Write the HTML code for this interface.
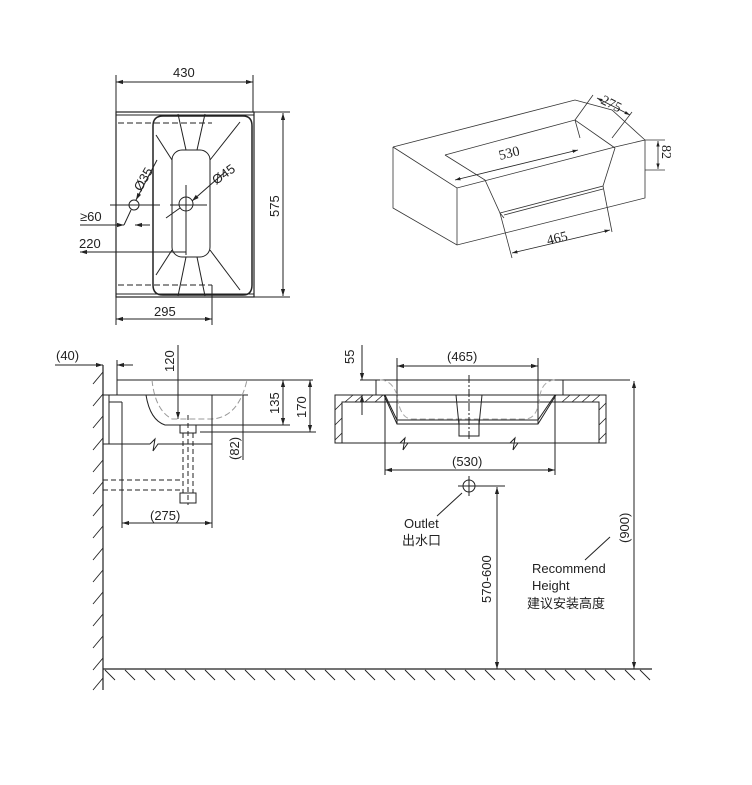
<!DOCTYPE html>
<html><head><meta charset="utf-8"><style>
html,body{margin:0;padding:0;background:#fff;}
svg{display:block;}
text{font-family:"Liberation Sans","Noto Sans CJK SC",sans-serif;font-size:13px;fill:#222;}
</style></head><body>
<svg width="752" height="785" viewBox="0 0 752 785" xmlns="http://www.w3.org/2000/svg">
<defs>
<marker id="a" viewBox="0 0 10 10" refX="10" refY="5" markerWidth="7" markerHeight="7" orient="auto-start-reverse"><path d="M0,2 L10,5 L0,8 z" fill="#222"/></marker>
</defs>
<g stroke="#222" stroke-width="1" fill="none">
<!-- TOP VIEW -->
<line x1="116" y1="75" x2="116" y2="325"/>
<line x1="253" y1="75" x2="253" y2="112"/>
<line x1="116" y1="82" x2="253" y2="82" marker-start="url(#a)" marker-end="url(#a)"/>
<rect x="116" y="112" width="138" height="185" stroke-width="1.2"/>
<line x1="116" y1="115" x2="254" y2="115"/>
<line x1="116" y1="294" x2="254" y2="294"/>
<path d="M163,116 H243 Q252,116 252,126 V285 Q252,295 243,295 H163 Q153,295 153,285 V126 Q153,116 163,116 Z" stroke-width="1.5"/>
<line x1="118" y1="123" x2="212" y2="123" stroke-dasharray="6,3"/>
<line x1="118" y1="285" x2="212" y2="285" stroke-dasharray="6,3"/>
<rect x="172" y="150" width="38" height="107" rx="10"/>
<line x1="178" y1="114" x2="186" y2="150"/><line x1="205" y1="114" x2="197" y2="150"/>
<line x1="178" y1="296" x2="186" y2="257"/><line x1="205" y1="296" x2="197" y2="257"/>
<line x1="240" y1="122" x2="210" y2="160"/><line x1="240" y1="290" x2="210" y2="250"/>
<line x1="156" y1="135" x2="172" y2="160"/><line x1="156" y1="275" x2="172" y2="250"/>
<line x1="254" y1="112" x2="290" y2="112"/><line x1="254" y1="297" x2="290" y2="297"/>
<line x1="283" y1="113" x2="283" y2="296" marker-start="url(#a)" marker-end="url(#a)"/>
<line x1="212" y1="285" x2="212" y2="325"/>
<line x1="116" y1="319" x2="212" y2="319" marker-start="url(#a)" marker-end="url(#a)"/>
<circle cx="134" cy="205" r="5"/><circle cx="186" cy="204" r="7"/>
<line x1="110" y1="205" x2="160" y2="205"/><line x1="170" y1="205" x2="207" y2="205"/>
<line x1="186" y1="185" x2="186" y2="255"/>
<line x1="157" y1="160" x2="136" y2="200" marker-end="url(#a)"/>
<line x1="225" y1="172" x2="192" y2="201" marker-end="url(#a)"/>
<line x1="166" y1="218" x2="180" y2="208"/>
<line x1="80" y1="225" x2="124" y2="225" marker-end="url(#a)"/><line x1="150" y1="225" x2="135" y2="225" marker-end="url(#a)"/>
<line x1="124" y1="225" x2="131" y2="210"/>
<line x1="80" y1="252" x2="186" y2="252" marker-start="url(#a)"/>
<line x1="153" y1="205" x2="153" y2="228"/>
</g>
<text x="173" y="77">430</text>
<text x="154" y="316">295</text>
<text x="279" y="217" transform="rotate(-90 279 217)" text-anchor="start" dx="0">575</text>
<text x="141" y="192" transform="rotate(-60 141 192)">Ø35</text>
<text x="216" y="185" transform="rotate(-35 216 185)">Ø45</text>
<text x="80" y="221">≥60</text>
<text x="79" y="248">220</text>

<!-- ISOMETRIC -->
<g stroke="#333" stroke-width="0.8" fill="none">
<polyline points="393,147 575,100 612,110 645,140 645,198 457,245 393,208 393,147"/>
<polyline points="393,147 457,188 615,147 645,140"/>
<line x1="457" y1="188" x2="457" y2="245"/>
<polyline points="445,155 575,120 615,148"/>
<polyline points="445,155 485,180 500,213 603,186 615,148"/>
<line x1="575" y1="120" x2="580" y2="138"/>
<line x1="500" y1="213" x2="504" y2="218"/><line x1="504" y1="215" x2="603" y2="189"/>
<line x1="593" y1="95" x2="575" y2="120"/><line x1="632" y1="112" x2="612" y2="138"/>
<line x1="597" y1="98" x2="630" y2="115" stroke="#222" marker-start="url(#a)" marker-end="url(#a)"/>
<line x1="455" y1="180" x2="578" y2="150" stroke="#222" marker-start="url(#a)" marker-end="url(#a)"/>
<line x1="500" y1="213" x2="512" y2="258"/><line x1="603" y1="186" x2="612" y2="232"/>
<line x1="512" y1="253" x2="610" y2="230" stroke="#222" marker-start="url(#a)" marker-end="url(#a)"/>
<line x1="645" y1="140" x2="665" y2="140"/><line x1="645" y1="170" x2="665" y2="170"/>
<line x1="658" y1="141" x2="658" y2="169" stroke="#222" marker-start="url(#a)" marker-end="url(#a)"/>
</g>
<text x="500" y="160" transform="rotate(-14 500 160)" style="font-family:'Liberation Serif',serif;font-size:14px">530</text>
<text x="548" y="245" transform="rotate(-14 548 245)" style="font-family:'Liberation Serif',serif;font-size:14px">465</text>
<text x="600" y="103" transform="rotate(27 600 103)" style="font-family:'Liberation Serif',serif;font-size:14px">275</text>
<text x="662" y="145" transform="rotate(90 662 145)" style="font-family:'Liberation Serif',serif;font-size:14px">82</text>

<!-- WALL & FLOOR -->
<g stroke="#222" stroke-width="1.2" fill="none">
<line x1="103" y1="365" x2="103" y2="690"/>
<line x1="103" y1="669" x2="652" y2="669"/>
</g>
<g stroke="#222" stroke-width="0.9">
<path d="M103,372 l-10,12 M103,394 l-10,12 M103,416 l-10,12 M103,438 l-10,12 M103,460 l-10,12 M103,482 l-10,12 M103,504 l-10,12 M103,526 l-10,12 M103,548 l-10,12 M103,570 l-10,12 M103,592 l-10,12 M103,614 l-10,12 M103,636 l-10,12 M103,658 l-10,12 M103,678 l-10,12"/>
<path d="M105,670 l10,10 M125,670 l10,10 M145,670 l10,10 M165,670 l10,10 M185,670 l10,10 M205,670 l10,10 M225,670 l10,10 M245,670 l10,10 M265,670 l10,10 M285,670 l10,10 M305,670 l10,10 M325,670 l10,10 M345,670 l10,10 M365,670 l10,10 M385,670 l10,10 M405,670 l10,10 M425,670 l10,10 M445,670 l10,10 M465,670 l10,10 M485,670 l10,10 M505,670 l10,10 M525,670 l10,10 M545,670 l10,10 M565,670 l10,10 M585,670 l10,10 M605,670 l10,10 M625,670 l10,10 M640,670 l10,10"/>
</g>

<!-- SIDE VIEW LEFT -->
<g stroke="#222" stroke-width="1" fill="none">
<line x1="55" y1="365" x2="103" y2="365" marker-end="url(#a)"/><line x1="133" y1="365" x2="117" y2="365" marker-end="url(#a)"/>
<line x1="117" y1="360" x2="117" y2="395"/>
<line x1="117" y1="380" x2="313" y2="380"/>
<line x1="103" y1="395" x2="248" y2="395"/>
<path d="M146,395 Q150,420 165,425 H250"/>
<path d="M152,380 Q155,410 172,419 H210 Q238,419 247,380" stroke="#999" stroke-dasharray="6,3"/>
<line x1="178" y1="345" x2="178" y2="419" marker-end="url(#a)"/>
<line x1="243" y1="395" x2="243" y2="460"/>
<line x1="283" y1="380" x2="283" y2="425" marker-start="url(#a)" marker-end="url(#a)"/>
<line x1="250" y1="425" x2="290" y2="425"/>
<line x1="310" y1="380" x2="310" y2="432" marker-start="url(#a)" marker-end="url(#a)"/>
<line x1="200" y1="432" x2="316" y2="432"/>
<line x1="109" y1="395" x2="109" y2="444"/><line x1="109" y1="402" x2="122" y2="402"/><line x1="122" y1="402" x2="122" y2="444"/>
<line x1="212" y1="395" x2="212" y2="528"/>
<line x1="103" y1="444" x2="150" y2="444"/><path d="M150,444 l5,-5 l-2,12 l5,-7 H212"/>
<line x1="122" y1="444" x2="122" y2="528"/>
<line x1="122" y1="523" x2="212" y2="523" marker-start="url(#a)" marker-end="url(#a)"/>
<rect x="180" y="425" width="16" height="8"/>
<rect x="180" y="493" width="16" height="10"/>
<g stroke-dasharray="5,3"><line x1="183" y1="433" x2="183" y2="493"/><line x1="193" y1="433" x2="193" y2="493"/><line x1="103" y1="480" x2="183" y2="480"/><line x1="103" y1="490" x2="183" y2="490"/><line x1="188" y1="415" x2="188" y2="505"/></g>
</g>
<text x="56" y="360">(40)</text>
<text x="174" y="372" transform="rotate(-90 174 372)">120</text>
<text x="279" y="414" transform="rotate(-90 279 414)">135</text>
<text x="306" y="418" transform="rotate(-90 306 418)">170</text>
<text x="239" y="460" transform="rotate(-90 239 460)">(82)</text>
<text x="150" y="520">(275)</text>

<!-- FRONT VIEW -->
<g stroke="#222" stroke-width="1" fill="none">
<line x1="360" y1="380" x2="630" y2="380"/>
<line x1="362" y1="345" x2="362" y2="380" marker-end="url(#a)"/><line x1="362" y1="415" x2="362" y2="395" marker-end="url(#a)"/>
<rect x="335" y="395" width="271" height="48"/>
<rect x="342" y="402" width="257" height="41"/>
<line x1="342" y1="402" x2="385" y2="402"/>
<path d="M385,395 L397,420 H538 L555,395"/>
<path d="M384,395 L397,424 H538 L556,395" />
<line x1="385" y1="395" x2="385" y2="475"/><line x1="555" y1="395" x2="555" y2="475"/>
<line x1="397" y1="358" x2="397" y2="424"/><line x1="538" y1="358" x2="538" y2="424"/>
<line x1="397" y1="366" x2="538" y2="366" marker-start="url(#a)" marker-end="url(#a)"/>
<line x1="385" y1="470" x2="555" y2="470" marker-start="url(#a)" marker-end="url(#a)"/>
<path d="M376,380 V395 M563,380 V395"/>
<path d="M380,380 Q392,380 397,395 Q400,419 412,419 H525 Q538,419 540,395 Q543,380 556,380" stroke="#aaa" stroke-dasharray="6,3"/>
<path d="M456,395 L459,425 M482,395 L479,425"/><rect x="459" y="420" width="20" height="16"/>
<line x1="469" y1="375" x2="469" y2="440" stroke-dasharray="8,2,2,2"/>
<path d="M342,443 H400 l5,-5 l-2,12 l5,-7 H510 l5,-5 l-2,12 l5,-7 H599"/>
<circle cx="469" cy="486" r="6"/><line x1="458" y1="486" x2="505" y2="486"/><line x1="469" y1="476" x2="469" y2="496"/>
<line x1="462" y1="493" x2="437" y2="516"/>
<line x1="497" y1="487" x2="497" y2="669" marker-start="url(#a)" marker-end="url(#a)"/>
<line x1="634" y1="381" x2="634" y2="669" marker-start="url(#a)" marker-end="url(#a)"/>
<line x1="610" y1="537" x2="585" y2="560"/>
</g>
<g stroke="#222" stroke-width="0.8">
<path d="M345,402 l8,-7 M355,402 l8,-7 M365,402 l8,-7 M375,402 l8,-7 M562,402 l8,-7 M572,402 l8,-7 M582,402 l8,-7 M592,402 l8,-7 M335,410 l7,-7 M335,425 l7,-7 M335,440 l7,-7 M599,410 l7,-7 M599,425 l7,-7 M599,440 l7,-7"/>
</g>
<text x="354" y="364" transform="rotate(-90 354 364)">55</text>
<text x="447" y="361">(465)</text>
<text x="452" y="466">(530)</text>
<text x="404" y="528">Outlet</text>
<text x="402" y="545">出水口</text>
<text x="491" y="603" transform="rotate(-90 491 603)">570-600</text>
<text x="629" y="543" transform="rotate(-90 629 543)">(900)</text>
<text x="532" y="573">Recommend</text>
<text x="532" y="590">Height</text>
<text x="527" y="608">建议安装高度</text>
</svg>
</body></html>
